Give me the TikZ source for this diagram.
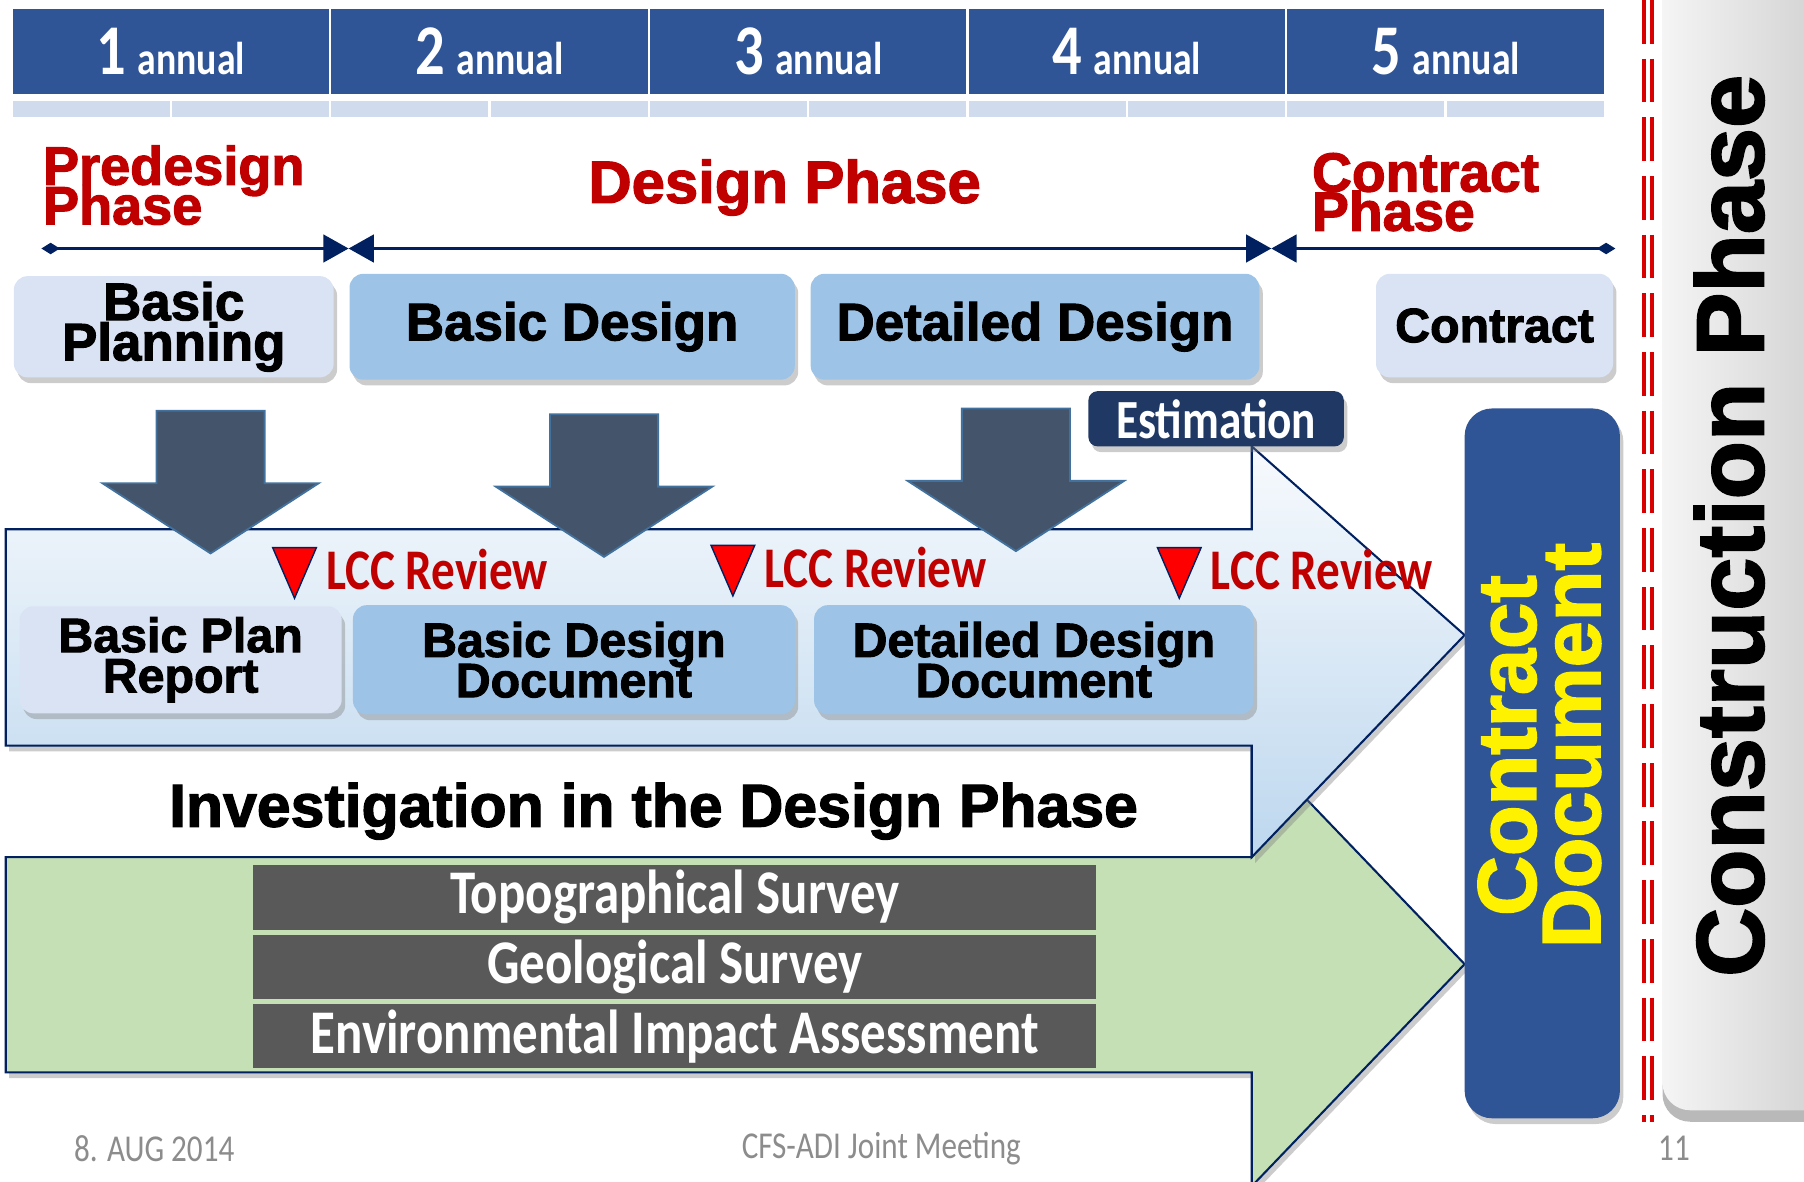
\documentclass[tikz,border=0pt]{standalone}
\usepackage{fontspec}
\setmainfont{Liberation Sans}
\newfontfamily\heavyfont{Liberation Sans}[FakeBold=2]
\newfontfamily\narrowfont{Carlito}[FakeStretch=0.82]
\newcommand\heavy{\heavyfont\bfseries}
\newcommand\narrow{\narrowfont\bfseries}
\setlength\lineskiplimit{-30pt}
\usetikzlibrary{arrows.meta,positioning,shadows}

\definecolor{hdrblue}{HTML}{2F5597}
\definecolor{hdrstrip}{HTML}{D0DCEE}
\definecolor{phasered}{HTML}{C00000}
\definecolor{tlnavy}{HTML}{002060}
\definecolor{paleblue}{HTML}{DAE3F3}
\definecolor{midblue}{HTML}{9DC3E6}
\definecolor{estnavy}{HTML}{203864}
\definecolor{slate}{HTML}{44546A}
\definecolor{slateedge}{HTML}{41719C}
\definecolor{flowtop}{HTML}{F7FAFD}
\definecolor{flowbot}{HTML}{BDD7EE}
\definecolor{greenflow}{HTML}{C5E0B4}
\definecolor{surveygray}{HTML}{595959}
\definecolor{footgray}{HTML}{8C8C8C}
\definecolor{dashred}{HTML}{D80000}

\begin{document}
\begin{tikzpicture}[x=0.5pt,y=-0.5pt,
    boxshadow/.style={drop shadow={shadow xshift=1.5pt,shadow yshift=-2.5pt,opacity=.4}},
    phase/.style={rounded corners=6pt,inner sep=0pt,align=center,boxshadow,
      font=\heavy\fontsize{23}{17.5}\selectfont},
    lightbox/.style={phase,fill=paleblue},
    bluebox/.style={phase,fill=midblue},
    docbox/.style={font=\heavy\fontsize{21}{17.5}\selectfont},
    heading/.style={inner sep=0pt,align=left,text=phasered,
      font=\heavy\fontsize{23.5}{17.25}\selectfont},
    timeline/.style={draw=tlnavy,line width=1.3pt},
    fatarrow/.style={fill=slate,draw=slateedge,line width=0.8pt},
    flow/.style={draw=tlnavy,line width=0.9pt,boxshadow},
    lcc/.style={fill=red,draw=tlnavy,line width=0.6pt},
    lcctext/.style={anchor=west,inner sep=0pt,text=phasered,
      font=\narrow\fontsize{25}{25}\selectfont},
    survey/.style={fill=surveygray,minimum width=366.5pt,minimum height=28pt,
      inner sep=0pt,text=white,font=\narrow\fontsize{27}{27}\selectfont},
    foot/.style={text=footgray,font=\narrowfont\fontsize{16.5}{16.5}\selectfont},
    sepline/.style={draw=dashred,line width=1.8pt,dash pattern=on 19pt off 6.5pt}]
\useasboundingbox (0,0) rectangle (1568,1027);

% year header with the half-year strip underneath
\foreach \i in {1,...,5}{
  \node[fill=hdrblue,minimum width=137.5pt,minimum height=37pt,inner sep=0pt,text=white]
    (year_\i) at ({10+277*(\i-0.5)},45)
    {\narrow\fontsize{31}{31}\selectfont\i\hspace{5pt}\fontsize{20}{20}\selectfont annual};
  \foreach \j in {0,1}
    \fill[hdrstrip] ({10+277*(\i-1)+138.5*\j+1},88) rectangle ++(136.5,14);
}

% construction side panel and the red border
\path[left color=black!4,right color=black!24,rounded corners=12pt,
  drop shadow={shadow xshift=0pt,shadow yshift=-5pt,opacity=.55}]
  (1445,-30) rectangle (1650,965);
\draw[sepline] (1429,0) -- (1429,975);
\draw[sepline] (1436,0) -- (1436,975);
\node[rotate=90,font=\heavy\fontsize{41.5}{41.5}\selectfont] (cons_phase) at (1503,457) {Construction Phase};

% the two big flow arrows
\draw[flow,fill=greenflow] (5,745) -- (1088,745) -- (1088,645) -- (1273,838)
  -- (1088,1031) -- (1088,932) -- (5,932) -- cycle;
\draw[flow,top color=flowtop,bottom color=flowbot] (5,460) -- (1088,460) -- (1088,388)
  -- (1273,552) -- (1088,745) -- (1088,648) -- (5,648) -- cycle;

% fat down arrows
\foreach \cx/\ty in {183/357,525/360,883/355}
  \draw[fatarrow] ({\cx-47},\ty) -- ({\cx+47},\ty) -- ({\cx+47},{\ty+63}) -- ({\cx+94},{\ty+63})
    -- (\cx,{\ty+124}) -- ({\cx-94},{\ty+63}) -- ({\cx-47},{\ty+63}) -- cycle;

% phase headings and timeline
\node[heading,anchor=west] (pre_phase) at (37,161) {Predesign\\Phase};
\node[heading,font=\heavy\fontsize{26}{26}\selectfont] (des_phase) at (682,163) {Design Phase};
\node[heading,anchor=west,font=\heavy\fontsize{24}{17}\selectfont] (con_phase) at (1140,167) {Contract\\Phase};

\coordinate (tl_a) at (36,216);
\coordinate (tl_b) at (303,216);
\coordinate (tl_c) at (1105,216);
\coordinate (tl_d) at (1404,216);
\draw[timeline,{Diamond[length=8pt,width=5pt]}-{Triangle[length=11pt,width=12pt]}] (tl_a) -- (tl_b);
\draw[timeline,{Triangle[length=11pt,width=12pt]}-{Triangle[length=11pt,width=12pt]}] (tl_b) -- (tl_c);
\draw[timeline,{Triangle[length=11pt,width=12pt]}-{Diamond[length=8pt,width=5pt]}] (tl_c) -- (tl_d);

% work stages
\node[lightbox,minimum width=139pt,minimum height=44pt] (basic_plan) at (151,284) {Basic\\Planning};
\node[bluebox,minimum width=193.5pt,minimum height=46pt,right=6.5pt of basic_plan] (basic_des) {Basic Design};
\node[bluebox,minimum width=195pt,minimum height=46pt,right=6.5pt of basic_des] (det_des) {Detailed Design};
\node[lightbox,minimum width=103pt,minimum height=45pt,font=\heavy\fontsize{21}{21}\selectfont]
  (contract) at (1299,283) {Contract};

\node[fill=estnavy,rounded corners=4pt,minimum width=111pt,minimum height=24pt,inner sep=0pt,
  text=white,font=\narrow\fontsize{24}{24}\selectfont,boxshadow] (estim) at (1057,364) {Estimation};

% documents produced by each stage
\node[lightbox,docbox,minimum width=140pt,minimum height=46.5pt] (plan_rep) at (157,573.5) {Basic Plan\\Report};
\node[bluebox,docbox,minimum width=192pt,minimum height=47.5pt,right=4.5pt of plan_rep] (bd_doc) {Basic Design\\Document};
\node[bluebox,docbox,minimum width=191pt,minimum height=47.5pt,right=8pt of bd_doc] (dd_doc) {Detailed Design\\Document};

\foreach \tx/\ty [count=\k] in {256/520,637/518,1025/520}{
  \draw[lcc] ({\tx-19},{\ty-44}) -- ({\tx+19},{\ty-44}) -- (\tx,\ty) -- cycle;
  \node[lcctext] (lcc_\k) at ({\tx+27},{\ty-25}) {LCC Review};
}

% investigations
\node[font=\heavy\fontsize{26.4}{26.4}\selectfont] (invest) at (568,705) {Investigation in the Design Phase};
\node[survey] (topo) at (586.5,780) {Topographical Survey};
\node[survey,below=1.75pt of topo] (geo) {Geological Survey};
\node[survey,below=1.75pt of geo] (env) {Environmental Impact Assessment};

% contract document
\node[fill=hdrblue,rounded corners=12pt,minimum width=67.5pt,minimum height=308.5pt,boxshadow]
  (con_doc) at (1340.5,663.5) {};
\node[rotate=90,text=yellow,align=center,font=\heavy\fontsize{36}{28}\selectfont]
  (con_doc_txt) at (1338,648) {Contract\\Document};

% footer
\node[foot] (date) at (134,998) {8. AUG 2014};
\node[foot] (meeting) at (766,998) {CFS-ADI Joint Meeting};
\node[foot] (page_no) at (1455,998) {11};
\end{tikzpicture}
\end{document}
